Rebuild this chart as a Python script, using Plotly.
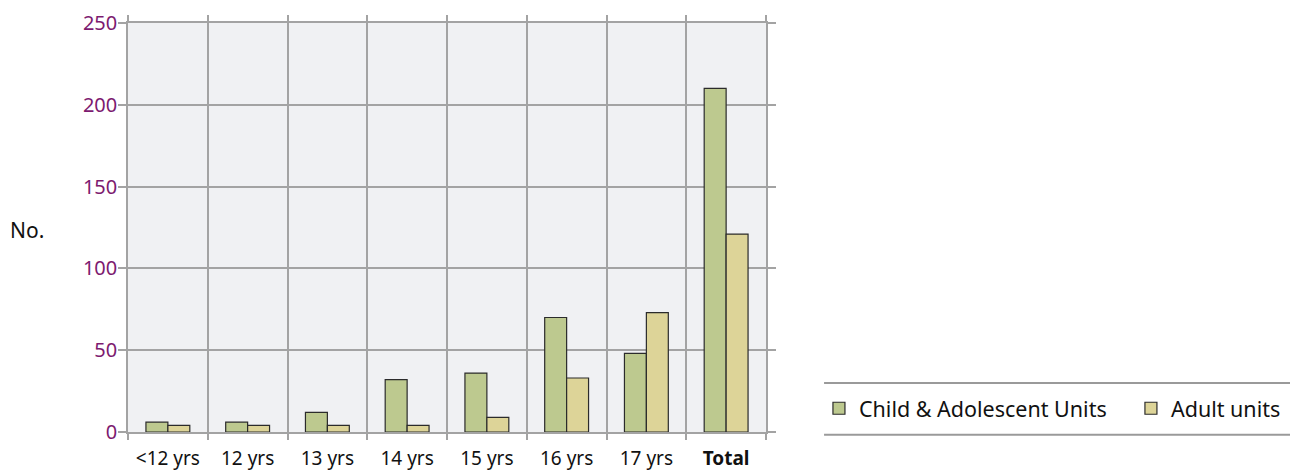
import plotly.graph_objects as go

categories = ["<12 yrs", "12 yrs", "13 yrs", "14 yrs", "15 yrs", "16 yrs", "17 yrs", "<b>Total</b>"]
child_units = [6, 6, 12, 32, 36, 70, 48, 210]
adult_units = [4, 4, 4, 4, 9, 33, 73, 121]
y_ticks = [0, 50, 100, 150, 200, 250]

FONT = "Noto Sans"
GRID = "#a3a3a3"

fig = go.Figure()
fig.add_trace(go.Bar(
    x=categories, y=child_units, name="Child & Adolescent Units",
    marker=dict(color="#bdc98f", line=dict(color="#2b2b2b", width=1.2)),
    legend="legend",
))
fig.add_trace(go.Bar(
    x=categories, y=adult_units, name="Adult units",
    marker=dict(color="#ddd498", line=dict(color="#2b2b2b", width=1.2)),
    legend="legend2",
))

legend_common = dict(
    orientation="h", y=0.058, xanchor="left", yanchor="middle",
    font=dict(family=FONT, size=21.5, color="#111111"),
    itemwidth=30, bgcolor="rgba(0,0,0,0)",
)

fig.update_layout(
    width=1290, height=464,
    margin=dict(l=120, r=532, t=15, b=40, autoexpand=False),
    paper_bgcolor="white",
    plot_bgcolor="#f0f1f3",
    barmode="group",
    bargap=0.45,
    bargroupgap=0,
    font=dict(family=FONT, size=19.5, color="#111111"),
    showlegend=True,
    legend=dict(x=1.083, **legend_common),
    legend2=dict(x=1.572, **legend_common),
    shapes=[
        dict(type="line", xref="paper", yref="paper", x0=1.091, x1=1.823, y0=0.12, y1=0.12,
             line=dict(color="#9a9a9a", width=2)),
        dict(type="line", xref="paper", yref="paper", x0=1.091, x1=1.823, y0=-0.007, y1=-0.007,
             line=dict(color="#9a9a9a", width=2)),
    ],
    annotations=[
        dict(text="No.", xref="paper", yref="paper", x=-0.159, y=0.494,
             xanchor="center", yanchor="middle", showarrow=False,
             font=dict(family=FONT, size=21, color="#111111")),
    ],
)

fig.update_xaxes(
    type="category",
    tickson="boundaries",
    ticks="outside", ticklen=6, tickcolor=GRID, tickwidth=1.5,
    showgrid=True, gridcolor=GRID, gridwidth=1.5,
    showline=True, linecolor=GRID, linewidth=1.5, mirror="ticks",
    tickfont=dict(family=FONT, size=19, color="#111111"),
    ticklabelstandoff=8,
    automargin=False,
)
fig.update_yaxes(
    range=[0, 250], tickvals=y_ticks,
    ticks="outside", ticklen=8, tickcolor=GRID, tickwidth=1.5,
    showgrid=True, gridcolor=GRID, gridwidth=1.5,
    showline=True, linecolor=GRID, linewidth=1.5, mirror="ticks",
    zeroline=False,
    tickfont=dict(family=FONT, size=20, color="#7d1a70"),
    ticklabelstandoff=-3,
    automargin=False,
)

fig.write_html("out.html")
